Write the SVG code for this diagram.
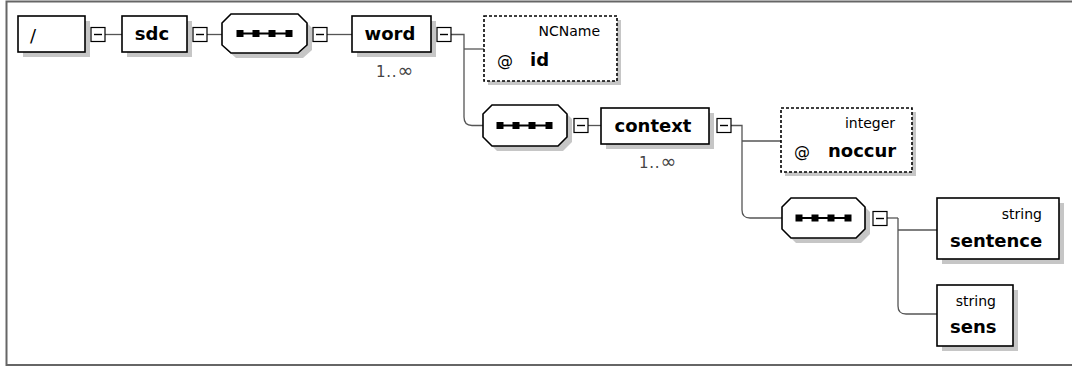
<svg xmlns="http://www.w3.org/2000/svg" width="1072" height="369" viewBox="0 0 1072 369">
<style>
.box{fill:#fff;stroke:#000;stroke-width:1.6}
.dash{fill:#fff;stroke:#000;stroke-width:1.6;stroke-dasharray:3 2}
.sh{fill:#c6c6c6}
.mb{fill:#fff;stroke:#000;stroke-width:1.2}
.mi{stroke:#000;stroke-width:1.4}
.con{fill:none;stroke:#555;stroke-width:1.3}
.nm{font-family:"DejaVu Sans",Verdana,sans-serif;font-weight:bold;font-size:18px;fill:#000}
.sl{font-family:"DejaVu Sans",Verdana,sans-serif;font-size:18px;fill:#000}
.ty{font-family:"DejaVu Sans",Verdana,sans-serif;font-size:14px;fill:#000;text-anchor:end}
.at{font-family:"DejaVu Sans",Verdana,sans-serif;font-size:16px;fill:#000}
.oc{font-family:"DejaVu Sans",Verdana,sans-serif;font-size:15px;fill:#444;text-anchor:middle;letter-spacing:0.8px}
.inf{font-size:19px}
.dots{stroke:#000;stroke-width:2}
</style>
<defs>
<g id="minus"><rect class="mb" x="0.5" y="0.5" width="14" height="14"/><line class="mi" x1="3.5" y1="7.5" x2="11.5" y2="7.5"/></g>
<g id="seqdots"><line class="dots" x1="-27" y1="0" x2="27" y2="0"/><rect x="-28.5" y="-3.5" width="7" height="7"/><rect x="-12.5" y="-3.5" width="7" height="7"/><rect x="3.5" y="-3.5" width="7" height="7"/><rect x="20.5" y="-3.5" width="7" height="7"/></g>
</defs>
<path d="M1072,1.5 H6.5 V365 H1072" fill="none" stroke="#666" stroke-width="2"/>
<g id="connectors">
<line class="con" x1="105" y1="34.5" x2="122" y2="34.5"/>
<line class="con" x1="207" y1="34.5" x2="222" y2="34.5"/>
<line class="con" x1="327" y1="34.5" x2="352" y2="34.5"/>
<path class="con" d="M451,34.5 H464 V117 Q464,125.5 472,125.5 H483"/>
<line class="con" x1="464" y1="49" x2="484" y2="49"/>
<line class="con" x1="588" y1="125.5" x2="601" y2="125.5"/>
<path class="con" d="M731,125.5 H742 V210 Q742,218 750,218 H782"/>
<line class="con" x1="742" y1="141" x2="781" y2="141"/>
<line class="con" x1="887" y1="218" x2="898" y2="218"/>
<path class="con" d="M898,218 V306 Q898,314 906,314 H937"/>
<line class="con" x1="898" y1="230" x2="937" y2="230"/>
</g>
<g id="root">
<rect class="sh" x="23" y="21" width="67" height="36"/>
<rect class="box" x="18" y="16" width="67" height="36"/>
<text class="sl" x="30" y="42">/</text>
<use href="#minus" x="90.5" y="27"/>
</g>
<g id="sdc">
<rect class="sh" x="127" y="21" width="65" height="36"/>
<rect class="box" x="122" y="16" width="65" height="36"/>
<text class="nm" x="152" y="40" text-anchor="middle">sdc</text>
<use href="#minus" x="192.5" y="27"/>
</g>
<g id="seq1">
<polygon class="sh" points="227,28 236,19 303,19 312,28 312,50 303,58 236,58 227,50"/>
<polygon class="box" points="222,23 231,14 298,14 307,23 307,45 298,53 231,53 222,45"/>
<use href="#seqdots" x="265" y="33.5"/>
<use href="#minus" x="312.5" y="27"/>
</g>
<g id="word">
<rect class="sh" x="357" y="21" width="79" height="36"/>
<rect class="box" x="352" y="16" width="79" height="36"/>
<text class="nm" x="390" y="40" text-anchor="middle">word</text>
<text class="oc" x="395" y="77">1..<tspan class="inf">∞</tspan></text>
<use href="#minus" x="436.5" y="27"/>
</g>
<g id="id">
<rect class="sh" x="488" y="20" width="133" height="65"/>
<rect class="dash" x="484" y="16" width="133" height="65"/>
<text class="ty" x="600" y="36">NCName</text>
<text class="at" x="497" y="66">@</text>
<text class="nm" x="530" y="66">id</text>
</g>
<g id="seq2">
<polygon class="sh" points="488,119 497,110 563,110 572,119 572,142 563,151 497,151 488,142"/>
<polygon class="box" points="483,114 492,105 558,105 567,114 567,137 558,146 492,146 483,137"/>
<use href="#seqdots" x="525" y="125.5"/>
<use href="#minus" x="573.5" y="118"/>
</g>
<g id="context">
<rect class="sh" x="606" y="113" width="108" height="36"/>
<rect class="box" x="601" y="108" width="108" height="36"/>
<text class="nm" x="653" y="132" text-anchor="middle">context</text>
<text class="oc" x="658" y="168">1..<tspan class="inf">∞</tspan></text>
<use href="#minus" x="716.5" y="118"/>
</g>
<g id="noccur">
<rect class="sh" x="785" y="112" width="131" height="64"/>
<rect class="dash" x="781" y="108" width="131" height="64"/>
<text class="ty" x="895" y="128">integer</text>
<text class="at" x="794" y="157">@</text>
<text class="nm" x="828" y="157">noccur</text>
</g>
<g id="seq3">
<polygon class="sh" points="787,212 796,203 861,203 870,212 870,234 861,243 796,243 787,234"/>
<polygon class="box" points="782,207 791,198 856,198 865,207 865,229 856,238 791,238 782,229"/>
<use href="#seqdots" x="824" y="218"/>
<use href="#minus" x="872.5" y="211"/>
</g>
<g id="sentence">
<rect class="sh" x="942" y="203" width="122" height="61"/>
<rect class="box" x="937" y="198" width="122" height="61"/>
<text class="ty" x="1042" y="219">string</text>
<text class="nm" x="950" y="247">sentence</text>
</g>
<g id="sens">
<rect class="sh" x="942" y="290" width="76" height="61"/>
<rect class="box" x="937" y="285" width="76" height="61"/>
<text class="ty" x="996" y="306">string</text>
<text class="nm" x="950" y="333">sens</text>
</g>
</svg>
